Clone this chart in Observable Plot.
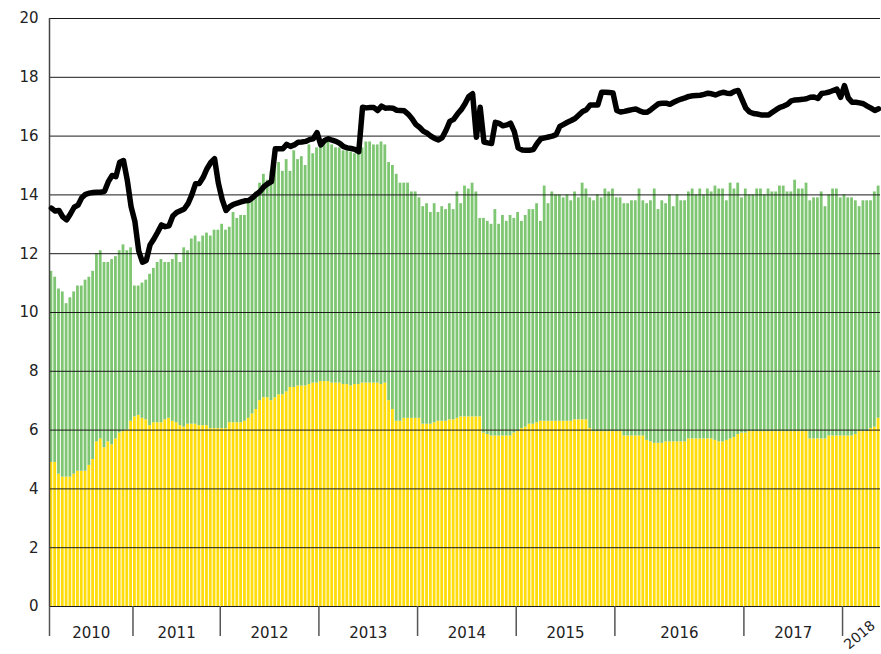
<!DOCTYPE html>
<html>
<head>
<meta charset="utf-8">
<script src="https://cdn.jsdelivr.net/npm/d3@7"></script>
<script src="https://cdn.jsdelivr.net/npm/@observablehq/plot@0.6"></script>
<style>
  body { margin: 0; background: #fff; }
  svg { display: block; }
</style>
</head>
<body>
<div id="chart"></div>
<script>
// Year categories and the number of observations (bars) in each year
const yearLabels = ["2010", "2011", "2012", "2013", "2014", "2015", "2016", "2017", "2018"];
const yearCounts = [22, 23, 26, 26, 26, 26, 34, 26, 10];

// Lower (yellow) series
const yellowValues = [
  // 2010
  4.9, 4.9, 4.5, 4.4, 4.4, 4.4, 4.5, 4.6, 4.6, 4.6, 4.8, 5.0, 5.6, 5.7, 5.4, 5.6, 5.5, 5.7, 5.9, 5.95, 6.0, 6.3,
  // 2011
  6.45, 6.5, 6.4, 6.35, 6.15, 6.25, 6.25, 6.25, 6.35, 6.4, 6.3, 6.25, 6.15, 6.1, 6.2, 6.2, 6.2, 6.15, 6.15, 6.15, 6.05, 6.05, 6.05,
  // 2012
  6.05, 6.05, 6.25, 6.25, 6.25, 6.25, 6.3, 6.4, 6.55, 6.7, 7.0, 7.1, 7.1, 7.0, 7.1, 7.2, 7.2, 7.3, 7.45, 7.45, 7.5, 7.5, 7.5, 7.55, 7.6, 7.6,
  // 2013
  7.65, 7.65, 7.65, 7.6, 7.6, 7.6, 7.55, 7.55, 7.5, 7.55, 7.55, 7.6, 7.6, 7.6, 7.6, 7.6, 7.55, 7.6, 7.0, 6.7, 6.3, 6.3, 6.4, 6.4, 6.4, 6.4,
  // 2014
  6.4, 6.2, 6.2, 6.2, 6.25, 6.3, 6.3, 6.3, 6.35, 6.35, 6.4, 6.45, 6.45, 6.45, 6.45, 6.45, 6.45, 5.9, 5.85, 5.8, 5.8, 5.8, 5.8, 5.8, 5.8, 5.9,
  // 2015
  5.95, 6.05, 6.1, 6.2, 6.2, 6.25, 6.3, 6.3, 6.3, 6.3, 6.3, 6.3, 6.3, 6.3, 6.3, 6.35, 6.35, 6.35, 6.35, 6.05, 5.95, 5.95, 5.95, 5.95, 5.95, 5.95,
  // 2016
  5.95, 5.95, 5.8, 5.8, 5.8, 5.8, 5.8, 5.8, 5.65, 5.6, 5.55, 5.55, 5.55, 5.6, 5.6, 5.6, 5.6, 5.6, 5.6, 5.7, 5.7, 5.7, 5.7, 5.7, 5.7, 5.7, 5.65, 5.6, 5.6, 5.65, 5.7, 5.75, 5.85, 5.9,
  // 2017
  5.9, 5.95, 5.95, 5.95, 5.95, 5.95, 5.95, 5.95, 5.95, 5.95, 5.95, 5.95, 5.95, 5.95, 5.95, 5.95, 5.95, 5.7, 5.7, 5.7, 5.7, 5.7, 5.8, 5.8, 5.8, 5.8,
  // 2018
  5.8, 5.8, 5.8, 5.85, 5.95, 5.95, 5.95, 6.05, 6.1, 6.4
];

// Top of the stacked bars (yellow + green)
const totalValues = [
  // 2010
  11.4, 11.2, 10.8, 10.7, 10.3, 10.5, 10.7, 10.9, 10.9, 11.1, 11.2, 11.4, 12.0, 12.1, 11.7, 11.7, 11.8, 11.9, 12.1, 12.3, 12.1, 12.2,
  // 2011
  10.9, 10.9, 11.0, 11.1, 11.3, 11.5, 11.7, 11.8, 11.7, 11.7, 11.8, 12.0, 11.7, 12.2, 12.1, 12.5, 12.6, 12.4, 12.6, 12.7, 12.6, 12.8, 12.8,
  // 2012
  13.0, 12.8, 12.9, 13.4, 13.2, 13.3, 13.3, 13.8, 13.9, 14.1, 14.4, 14.7, 14.5, 14.8, 15.0, 15.1, 14.8, 15.2, 14.8, 15.5, 15.2, 15.3, 15.0, 15.7, 15.4, 15.6,
  // 2013
  15.7, 15.8, 15.8, 15.7, 15.6, 15.6, 15.5, 15.5, 15.45, 15.4, 15.4, 15.6, 15.8, 15.8, 15.7, 15.7, 15.8, 15.7, 15.1, 15.0, 14.7, 14.4, 14.4, 14.4, 14.1, 14.1,
  // 2014
  13.9, 13.6, 13.7, 13.4, 13.7, 13.4, 13.6, 13.5, 13.7, 13.5, 14.1, 13.7, 14.3, 14.2, 14.4, 14.1, 13.2, 13.2, 13.1, 13.0, 13.5, 13.0, 13.3, 13.1, 13.3, 13.2,
  // 2015
  13.4, 13.1, 13.3, 13.5, 13.5, 13.7, 13.1, 14.3, 13.7, 14.1, 14.0, 14.0, 13.9, 14.0, 13.8, 14.1, 13.9, 14.4, 14.2, 13.9, 13.8, 14.0, 13.9, 14.2, 14.1, 14.2,
  // 2016
  13.9, 13.9, 13.7, 13.7, 13.8, 13.8, 14.2, 13.8, 13.7, 13.8, 14.2, 13.5, 13.8, 13.7, 14.0, 13.6, 14.0, 13.8, 13.8, 14.1, 14.2, 14.0, 14.2, 14.0, 14.2, 14.1, 14.3, 14.2, 14.2, 13.8, 14.4, 14.2, 14.4, 13.9,
  // 2017
  14.2, 14.0, 14.0, 14.2, 14.2, 14.0, 14.2, 14.1, 14.1, 14.3, 14.3, 14.1, 14.1, 14.5, 14.2, 14.2, 14.4, 13.8, 13.9, 13.9, 14.1, 13.6, 14.0, 14.2, 14.2, 13.9,
  // 2018
  14.0, 13.9, 13.9, 13.8, 13.6, 13.8, 13.8, 13.8, 14.1, 14.3
];

// Black line series
const lineValues = [
  // 2010
  13.55, 13.45, 13.47, 13.25, 13.15, 13.35, 13.58, 13.65, 13.9, 14.02, 14.06, 14.08, 14.09, 14.09, 14.12, 14.45, 14.66, 14.62, 15.11, 15.17, 14.5, 13.6,
  // 2011
  13.1, 12.1, 11.71, 11.77, 12.3, 12.5, 12.73, 12.98, 12.92, 12.95, 13.28, 13.4, 13.46, 13.52, 13.7, 14.0, 14.38, 14.39, 14.6, 14.89, 15.1, 15.23, 14.4,
  // 2012
  13.85, 13.47, 13.6, 13.68, 13.72, 13.76, 13.8, 13.81, 13.9, 14.02, 14.12, 14.28, 14.38, 14.45, 15.57, 15.57, 15.57, 15.72, 15.65, 15.7, 15.79, 15.8, 15.82, 15.88, 15.91, 16.12,
  // 2013
  15.7, 15.85, 15.91, 15.86, 15.82, 15.75, 15.64, 15.6, 15.58, 15.55, 15.47, 16.98, 16.96, 16.97, 16.97, 16.87, 17.02, 16.95, 16.96, 16.95, 16.88, 16.87, 16.86, 16.75, 16.6, 16.4,
  // 2014
  16.3, 16.17, 16.1, 16.0, 15.92, 15.87, 15.95, 16.2, 16.5, 16.57, 16.75, 16.9, 17.1, 17.35, 17.44, 15.96, 16.98, 15.8, 15.77, 15.75, 16.47, 16.43, 16.35, 16.38, 16.44, 16.15,
  // 2015
  15.6, 15.53, 15.52, 15.52, 15.54, 15.75, 15.91, 15.94, 15.97, 16.0, 16.05, 16.33, 16.4, 16.47, 16.53, 16.6, 16.72, 16.84, 16.9, 17.06, 17.06, 17.06, 17.49, 17.49, 17.48, 17.47,
  // 2016
  16.87, 16.82, 16.84, 16.87, 16.9, 16.92, 16.86, 16.81, 16.81, 16.9, 17.0, 17.1, 17.12, 17.12, 17.08, 17.15, 17.21, 17.26, 17.3, 17.35, 17.37, 17.38, 17.39, 17.42, 17.46, 17.44, 17.4, 17.45, 17.49, 17.46, 17.45, 17.52, 17.55, 17.25,
  // 2017
  16.95, 16.82, 16.77, 16.75, 16.72, 16.72, 16.72, 16.81, 16.9, 16.98, 17.02, 17.08, 17.2, 17.23, 17.24, 17.25, 17.27, 17.32, 17.33, 17.28, 17.45, 17.47, 17.5, 17.55, 17.6, 17.32,
  // 2018
  17.72, 17.3, 17.15, 17.15, 17.13, 17.1, 17.02, 16.95, 16.87, 16.93
];

const yTicks = [0, 2, 4, 6, 8, 10, 12, 14, 16, 18, 20];

// Build tables for the library
const n = yellowValues.length;
const data = yellowValues.map((y, i) => ({i, yellow: y, total: totalValues[i], line: lineValues[i]}));
const yearStarts = [];
let acc = 0;
for (const c of yearCounts) { yearStarts.push(acc); acc += c; }
const years = yearLabels.map((label, k) => ({label, start: yearStarts[k], mid: yearStarts[k] + yearCounts[k] / 2}));
const uprightYears = years.slice(0, -1);
const lastYear = years.slice(-1);

const chart = Plot.plot({
  width: 881,
  height: 654,
  marginLeft: 49,
  marginRight: 1,
  marginTop: 18,
  marginBottom: 48,
  style: {fontFamily: "DejaVu Sans, sans-serif", fontSize: "15px", color: "#222", background: "#fff"},
  x: {domain: [0, n]},
  y: {domain: [0, 20]},
  marks: [
    Plot.rect(data, {x1: "i", x2: d => d.i + 1, y1: 0, y2: "yellow", fill: "#FFDC0A", insetLeft: 0.5, insetRight: 0.5}),
    Plot.rect(data, {x1: "i", x2: d => d.i + 1, y1: "yellow", y2: "total", fill: "#7FC673", insetLeft: 0.5, insetRight: 0.5}),
    Plot.ruleY(yTicks, {stroke: "#1a1a1a", strokeWidth: 1}),
    Plot.ruleX([0], {stroke: "#444", strokeWidth: 1.5}),
    Plot.axisY(yTicks, {tickSize: 0, tickPadding: 11, label: null, fill: "#222"}),
    Plot.axisX(yearStarts, {tickSize: 30, tickFormat: () => "", label: null, stroke: "#555", strokeWidth: 1.5}),
    Plot.text(uprightYears, {x: "mid", text: "label", frameAnchor: "bottom", dy: 31, fill: "#222"}),
    Plot.text(lastYear, {x: "mid", text: "label", frameAnchor: "bottom", dy: 32, dx: 1, rotate: -40, fontSize: 14, fill: "#222"}),
    Plot.line(data, {x: d => d.i + 0.5, y: "line", stroke: "#000", strokeWidth: 5.5, strokeLinejoin: "round", strokeLinecap: "round"})
  ]
});
document.getElementById("chart").appendChild(chart);
</script>
</body>
</html>
